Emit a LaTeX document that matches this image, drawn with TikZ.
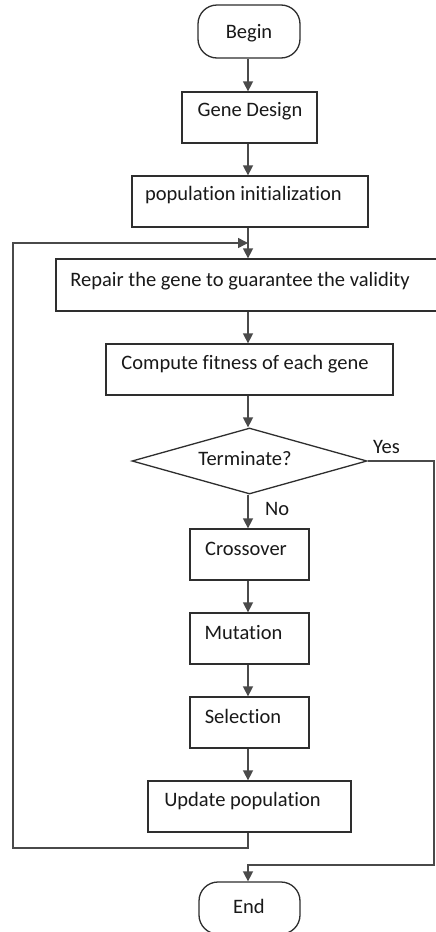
\documentclass[tikz,border=0pt]{standalone}
\usepackage{fontspec}
\setmainfont{Carlito}[Ligatures=NoCommon]
\usetikzlibrary{arrows.meta,shapes.geometric}
\definecolor{boxline}{HTML}{2E2E2E}
\definecolor{wire}{HTML}{4A4A4A}
\begin{document}
\begin{tikzpicture}[x=1pt,y=-1pt,
  flowbox/.style={draw=boxline,line width=1.3pt,rectangle,inner sep=0pt,fill=white},
  terminal/.style={flowbox,rounded corners=19pt},
  decision/.style={draw=boxline,line width=1.3pt,diamond,inner sep=0pt,fill=white},
  lbl/.style={anchor=base,inner sep=0pt,text=black!90,font=\fontsize{20.5}{24}\selectfont},
  link/.style={draw=wire,line width=1.5pt,-{Triangle[width=10pt,length=10pt]}},
  plain/.style={draw=wire,line width=1.5pt}]
\useasboundingbox (0,0) rectangle (436,932);
\fill[white] (0,0) rectangle (436,932);

% main flow axis
\coordinate (axis) at (248,0);

% boxes
\node[terminal,minimum width=102pt,minimum height=53pt] (begin) at (249,31.5) {};
\node[flowbox,minimum width=135pt,minimum height=51pt] (gene) at (249.5,117.5) {};
\node[flowbox,minimum width=236pt,minimum height=51pt] (pop) at (250,201.5) {};
\node[flowbox,minimum width=392pt,minimum height=52pt] (repair) at (252,285) {};
\node[flowbox,minimum width=287pt,minimum height=51pt] (fitness) at (249.5,369.5) {};
\node[decision,minimum width=235pt,minimum height=66pt] (decide) at (249.5,461) {};
\node[flowbox,minimum width=119pt,minimum height=51pt] (cross) at (249.5,554.5) {};
\node[flowbox,minimum width=119pt,minimum height=51pt] (mutate) at (249.5,638.5) {};
\node[flowbox,minimum width=119pt,minimum height=51pt] (select) at (249.5,722.5) {};
\node[flowbox,minimum width=203pt,minimum height=51pt] (update) at (249.5,806.5) {};
\node[terminal,minimum width=101pt,minimum height=52pt] (finish) at (249.5,908) {};

% texts
\node[lbl] (tbegin) at (249,38) {Begin};
\node[lbl] (tgene) at (250,116) {Gene Design};
\node[lbl] (tpop) at (243.5,200) {population initialization};
\node[lbl] (trepair) at (240,286) {Repair the gene to guarantee the validity};
\node[lbl] (tfitness) at (245,369) {Compute fitness of each gene};
\node[lbl] (tdecide) at (245,465) {Terminate?};
\node[lbl] (tcross) at (246,555) {Crossover};
\node[lbl] (tmutate) at (243.5,639) {Mutation};
\node[lbl] (tselect) at (243,723) {Selection};
\node[lbl] (tupdate) at (242.5,806) {Update population};
\node[lbl] (tfinish) at (249,913) {End};
\node[lbl,anchor=base west] (yes) at (373,453) {Yes};
\node[lbl,anchor=base west] (no) at (265,515) {No};

% loop and exit corners
\coordinate (loopB) at (13,848);
\coordinate (loopT) at (13,243);
\coordinate (exitT) at (434,461);
\coordinate (exitB) at (434,865);

% connectors
\draw[link] (begin.south -| axis) -- (gene.north -| axis);
\draw[link] (gene.south -| axis) -- (pop.north -| axis);
\draw[link] (pop.south -| axis) -- (repair.north -| axis);
\draw[link] (repair.south -| axis) -- (fitness.north -| axis);
\draw[link] (fitness.south -| axis) -- (decide.north -| axis);
\draw[link] (decide.south -| axis) -- (cross.north -| axis);
\draw[link] (cross.south -| axis) -- (mutate.north -| axis);
\draw[link] (mutate.south -| axis) -- (select.north -| axis);
\draw[link] (select.south -| axis) -- (update.north -| axis);
\draw[link] (update.south -| axis) |- (loopB) -- (loopT) -- (axis |- loopT);
\draw[link] (decide.east) -- (exitT) -- (exitB) -- (axis |- exitB) -- (finish.north -| axis);
\end{tikzpicture}
\end{document}
